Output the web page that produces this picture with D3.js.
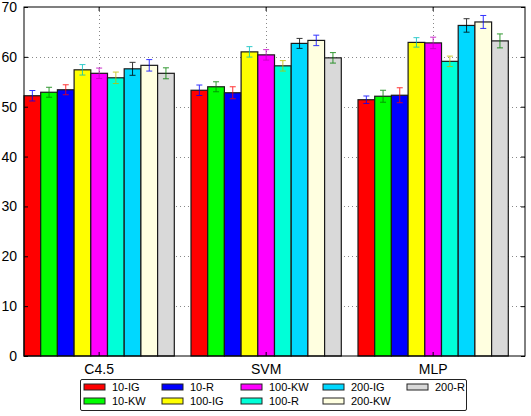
<!DOCTYPE html>
<html>
<head>
<meta charset="utf-8">
<script src="https://cdn.jsdelivr.net/npm/d3@7"></script>
<style>
body { margin: 0; background: #fff; }
text { font-family: "Liberation Sans", Arial, sans-serif; fill: #000; }
</style>
</head>
<body>
<script>
// data
var categories = ["C4.5", "SVM", "MLP"];
var series = ["10-IG", "10-KW", "10-R", "100-IG", "100-KW", "100-R", "200-IG", "200-KW", "200-R"];
var means = [
    [52.2, 53.3, 51.4],
    [52.9, 54.0, 52.1],
    [53.4, 52.8, 52.3],
    [57.4, 61.0, 62.9],
    [56.7, 60.4, 62.8],
    [55.8, 58.2, 59.1],
    [57.6, 62.7, 66.3],
    [58.3, 63.3, 67.0],
    [56.7, 59.8, 63.2]
];
var errs = [
    [1.05, 1.05, 0.75],
    [1.0, 1.0, 1.2],
    [1.0, 1.2, 1.5],
    [1.05, 1.05, 0.95],
    [1.05, 1.05, 1.15],
    [1.15, 1.05, 1.05],
    [1.3, 1.0, 1.35],
    [1.15, 1.05, 1.3],
    [1.1, 1.05, 1.4]
];
var yTicks = [0, 10, 20, 30, 40, 50, 60, 70];

var barColors = ["#ff0000", "#00ff00", "#0000ff", "#ffff00", "#ff00ff", "#00ffd8", "#00d8ff", "#ffffe0", "#d9d9d9"];
var errColors = ["#0000ff", "#008000", "#ff0000", "#00bfbf", "#bf00bf", "#bfbf00", "#000000", "#0000ff", "#008000"];

var W = 531, H = 416;
var pLeft = 24, pRight = 525, pTop = 7, pBottom = 356;

var svg = d3.select("body").append("svg")
    .attr("width", W)
    .attr("height", H);

var x = d3.scaleBand().domain(categories).range([pLeft, pRight]).padding(0);
// 10 slots per group, last one left empty
var slots = series.concat(["_gap"]);
var xs = d3.scaleBand().domain(slots).range([0, x.bandwidth()]).padding(0);
var y = d3.scaleLinear().domain([0, 70]).range([pBottom, pTop]);

function tickX(c) { return x(c) + xs.bandwidth() * series.length / 2; }

// grid
var grid = svg.append("g").attr("stroke", "#888").attr("stroke-dasharray", "1,3").attr("stroke-width", 1);
yTicks.slice(1, -1).forEach(function(t) {
    grid.append("line").attr("x1", pLeft).attr("x2", pRight)
        .attr("y1", Math.round(y(t)) + 0.5).attr("y2", Math.round(y(t)) + 0.5);
});
categories.forEach(function(c) {
    grid.append("line").attr("y1", pTop).attr("y2", pBottom)
        .attr("x1", Math.round(tickX(c)) + 0.5).attr("x2", Math.round(tickX(c)) + 0.5);
});

// bars
series.forEach(function(s, i) {
    var g = svg.append("g");
    categories.forEach(function(c, j) {
        var x0 = x(c) + xs(s);
        g.append("rect")
            .attr("x", x0)
            .attr("y", y(means[i][j]))
            .attr("width", xs.bandwidth())
            .attr("height", y(0) - y(means[i][j]))
            .attr("fill", barColors[i])
            .attr("stroke", "#1a1a1a")
            .attr("stroke-width", 1.2);
    });
});

// error bars
series.forEach(function(s, i) {
    var g = svg.append("g").attr("stroke", errColors[i]).attr("stroke-width", 1).attr("opacity", 0.8);
    categories.forEach(function(c, j) {
        var cx = x(c) + xs(s) + xs.bandwidth() / 2;
        var hi = y(means[i][j] + errs[i][j]), lo = y(means[i][j] - errs[i][j]);
        g.append("line").attr("x1", cx).attr("x2", cx).attr("y1", hi).attr("y2", lo);
        g.append("line").attr("x1", cx - 3).attr("x2", cx + 3).attr("y1", hi).attr("y2", hi);
        g.append("line").attr("x1", cx - 3).attr("x2", cx + 3).attr("y1", lo).attr("y2", lo);
    });
});

// frame
svg.append("rect")
    .attr("x", pLeft).attr("y", pTop)
    .attr("width", pRight - pLeft).attr("height", pBottom - pTop)
    .attr("fill", "none").attr("stroke", "#000").attr("stroke-width", 1);

// axes
var yAxis = d3.axisLeft(y).tickValues(yTicks).tickSize(-4).tickPadding(7).tickFormat(d3.format("d"));
var yg = svg.append("g").attr("transform", "translate(" + pLeft + ",0)").call(yAxis);
yg.select(".domain").remove();
yg.selectAll("text").style("font-size", "14px");

var yAxisR = d3.axisRight(y).tickValues(yTicks).tickSize(-4).tickFormat("");
svg.append("g").attr("transform", "translate(" + pRight + ",0)").call(yAxisR).select(".domain").remove();

var xAxis = d3.axisBottom(x).tickSize(-4).tickPadding(8);
var xg = svg.append("g").attr("transform", "translate(0," + pBottom + ")").call(xAxis);
xg.select(".domain").remove();
xg.selectAll(".tick").attr("transform", function(c) { return "translate(" + tickX(c) + ",0)"; });
xg.selectAll("text").style("font-size", "14px");

var xAxisT = d3.axisTop(x).tickSize(-4).tickFormat("");
var xt = svg.append("g").attr("transform", "translate(0," + pTop + ")").call(xAxisT);
xt.select(".domain").remove();
xt.selectAll(".tick").attr("transform", function(c) { return "translate(" + tickX(c) + ",0)"; });

// legend, 2 rows filled column by column
var legX = [84, 162, 241, 323, 407];
var legY = [387, 401];
var leg = svg.append("g");
leg.append("rect")
    .attr("x", 80.5).attr("y", 379.5)
    .attr("width", 386).attr("height", 31)
    .attr("rx", 1.5)
    .attr("fill", "#fff").attr("stroke", "#222").attr("stroke-width", 1);
series.forEach(function(s, i) {
    var col = Math.floor(i / 2), row = i % 2;
    leg.append("rect")
        .attr("x", legX[col]).attr("y", legY[row] - 3)
        .attr("width", 21).attr("height", 6)
        .attr("fill", barColors[i]).attr("stroke", "#222").attr("stroke-width", 1);
    leg.append("text")
        .attr("x", legX[col] + 28).attr("y", legY[row])
        .attr("dy", "0.35em")
        .style("font-size", "11px")
        .text(s);
});
</script>
</body>
</html>
